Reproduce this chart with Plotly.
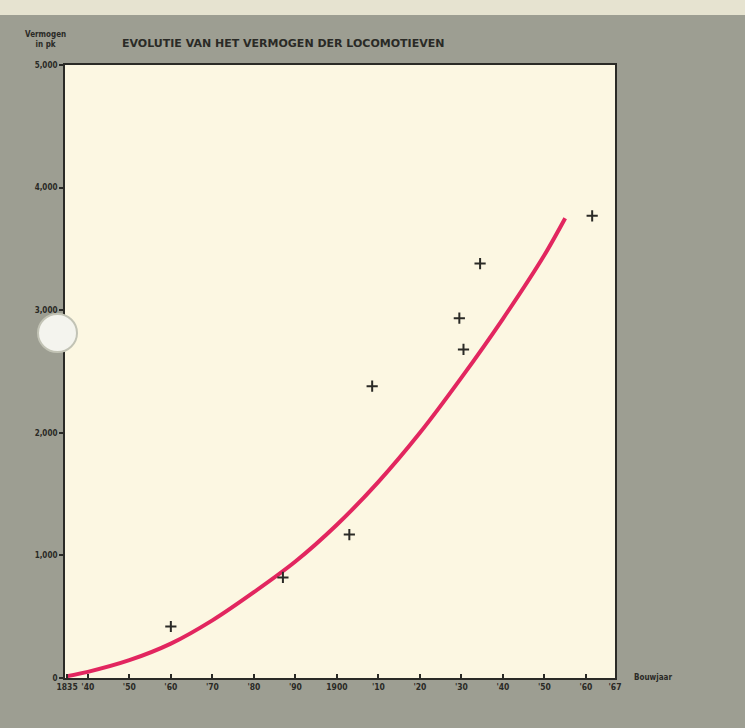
import plotly.graph_objects as go

# Data
point_years = [1860, 1887, 1903, 1908.5, 1929.5, 1930.5, 1934.5, 1961.5]
point_power = [420, 820, 1170, 2380, 2935, 2680, 3380, 3770]

curve_years = [1835, 1840, 1850, 1860, 1870, 1880, 1890, 1900, 1910, 1920, 1930, 1940, 1950, 1955]
curve_power = [15, 50, 145, 280, 470, 700, 950, 1250, 1600, 2000, 2450, 2930, 3450, 3750]

x_tickvals = [1835, 1840, 1850, 1860, 1870, 1880, 1890, 1900, 1910, 1920, 1930, 1940, 1950, 1960, 1967]
x_ticktext = ["1835", "'40", "'50", "'60", "'70", "'80", "'90", "1900", "'10", "'20", "'30", "'40", "'50", "'60", "'67"]
y_tickvals = [0, 1000, 2000, 3000, 4000, 5000]
y_ticktext = ["0", "1,000", "2,000", "3,000", "4,000", "5,000"]

title_text = "EVOLUTIE VAN HET VERMOGEN DER LOCOMOTIEVEN"
y_title = "Vermogen<br>in pk"
x_title = "Bouwjaar"

W, H = 745, 728
L, R, T, B = 65, 130, 65, 50
pw, ph = W - L - R, H - T - B

def px(x):
    return (x - L) / pw

def py(y):
    return (H - B - y) / ph

ink = "#2a2a26"
font_fam = "DejaVu Sans Condensed, DejaVu Sans, Arial"

fig = go.Figure()
fig.add_trace(go.Scatter(
    x=curve_years, y=curve_power, mode="lines",
    line=dict(color="#e2265f", width=4, shape="spline", smoothing=0.8),
    hoverinfo="skip", showlegend=False))
fig.add_trace(go.Scatter(
    x=point_years, y=point_power, mode="markers",
    marker=dict(symbol="cross-thin", size=8, line=dict(color=ink, width=2)),
    showlegend=False))

fig.update_layout(
    width=W, height=H,
    margin=dict(l=L, r=R, t=T, b=B),
    paper_bgcolor="#9d9e92",
    plot_bgcolor="#fcf7e2",
    showlegend=False,
    xaxis=dict(range=[1834.5, 1967], tickvals=x_tickvals, ticktext=x_ticktext,
               showgrid=False, zeroline=False, showline=True, mirror=True,
               linecolor=ink, linewidth=2, ticks="inside", ticklen=4,
               tickcolor=ink, tickwidth=2,
               tickfont=dict(family=font_fam, size=8.5, color=ink, weight="bold")),
    yaxis=dict(range=[0, 5000], tickvals=y_tickvals, ticktext=y_ticktext,
               showgrid=False, zeroline=False, showline=True, mirror=True,
               linecolor=ink, linewidth=2, ticks="outside", ticklen=4,
               tickcolor=ink, tickwidth=2,
               tickfont=dict(family=font_fam, size=8, color=ink, weight="bold")),
    shapes=[
        dict(type="rect", xref="paper", yref="paper", x0=-0.2, x1=1.3,
             y0=py(15), y1=py(-5), fillcolor="#e6e3d0", line=dict(width=0), layer="below"),
        dict(type="circle", xref="paper", yref="paper",
             x0=px(38), x1=px(77), y0=py(352), y1=py(314),
             fillcolor="#f4f4ee", line=dict(color="#c2c3b5", width=2), layer="above"),
    ],
    annotations=[
        dict(text=title_text, xref="paper", yref="paper", x=px(283), y=py(43),
             showarrow=False, xanchor="center", yanchor="middle",
             font=dict(family="DejaVu Sans, Arial", size=11, color=ink, weight="bold")),
        dict(text=y_title, xref="paper", yref="paper", x=px(45), y=py(40),
             showarrow=False, xanchor="center", yanchor="middle",
             font=dict(family=font_fam, size=8, color=ink, weight="bold")),
        dict(text=x_title, xref="paper", yref="paper", x=px(632), y=py(677),
             showarrow=False, xanchor="left", yanchor="middle",
             font=dict(family=font_fam, size=8, color=ink, weight="bold")),
    ],
)

fig.write_html("out.html", config={"displayModeBar": False},
               post_script="document.body.style.margin='0';")
